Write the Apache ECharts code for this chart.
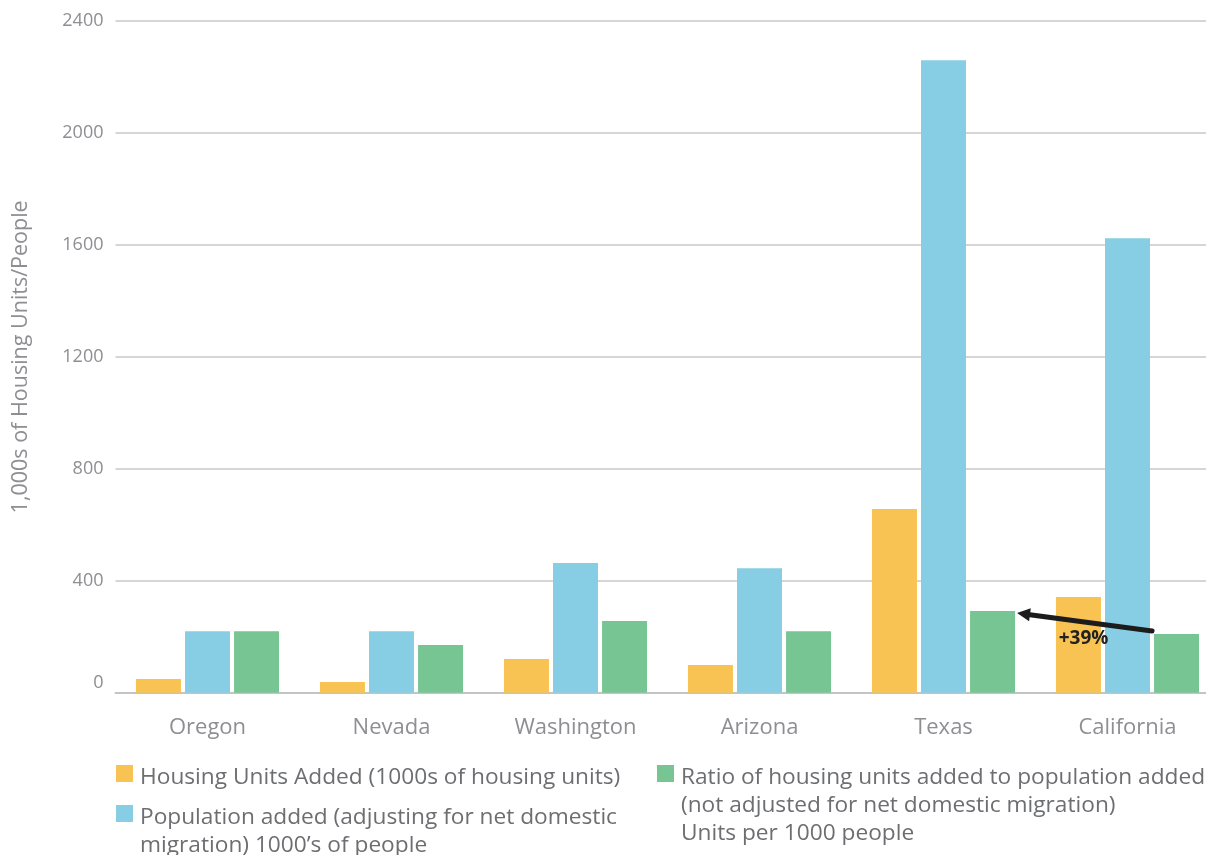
<!DOCTYPE html>
<html>
<head>
<meta charset="utf-8">
<title>Housing units vs population added</title>
<script src="https://cdn.jsdelivr.net/npm/echarts@6/dist/echarts.min.js"></script>
<style>
  html, body { margin: 0; padding: 0; background: #fff; }
  #chart { width: 1206px; height: 855px; }
</style>
</head>
<body>
<div id="chart"></div>
<script>
// States compared
const categories = ['Oregon', 'Nevada', 'Washington', 'Arizona', 'Texas', 'California'];
// Housing units added, thousands
const housingAdded = [49, 38, 120, 99, 656, 342];
// Population added (adjusted for net domestic migration), thousands
const populationAdded = [220, 220, 463, 445, 2260, 1624];
// Housing units added per 1000 people added
const unitsPerThousand = [220, 170, 256, 220, 292, 210];

// Value axis range
const yMin = 0;
const yMax = 2400;
const yStep = 400;

// Series names (legend text)
const seriesNames = [
  'Housing Units Added (1000s of housing units)',
  'Population added (adjusting for net domestic\nmigration) 1000\u2019s of people',
  'Ratio of housing units added to population added\n(not adjusted for net domestic migration)\nUnits per 1000 people'
];

// Comparison annotated with an arrow: California ratio -> Texas ratio
const compareFrom = 'California';
const compareTo = 'Texas';

const FONT = '"Open Sans", Lato, sans-serif';
const AXIS_GREY = '#8e8e93';
const LEGEND_GREY = '#6d6e71';
const COLORS = ['#F9C353', '#87CEE5', '#78C594'];
const BAR_W = 45;
const BAR_GAP = 0.09;
const LEGEND_LH = 28;

const chart = echarts.init(document.getElementById('chart'), null, { renderer: 'canvas' });

const option = {
  animation: false,
  backgroundColor: '#ffffff',
  textStyle: { fontFamily: FONT },
  grid: {
    left: 115.5,
    top: 21,
    width: 1104,
    height: 671.7,
    containLabel: false,
    outerBoundsMode: 'none'
  },
  xAxis: {
    type: 'category',
    data: categories,
    axisTick: { show: false },
    axisLine: { show: true, lineStyle: { color: '#c4c4c4', width: 2 } },
    axisLabel: {
      color: AXIS_GREY,
      fontFamily: FONT,
      fontSize: 22,
      margin: 24
    }
  },
  yAxis: {
    type: 'value',
    min: yMin,
    max: yMax,
    interval: yStep,
    name: '1,000s of Housing Units/People',
    nameLocation: 'middle',
    nameGap: 84,
    nameTextStyle: { color: AXIS_GREY, fontFamily: FONT, fontSize: 21.5 },
    axisLine: { show: false },
    axisTick: { show: false },
    splitLine: { lineStyle: { color: '#c8c8c8', width: 1.5 } },
    axisLabel: {
      color: AXIS_GREY,
      fontFamily: FONT,
      fontSize: 18,
      margin: 12,
      formatter: function (v) { return v === 0 ? '{z|0}' : String(v); },
      rich: {
        z: { color: AXIS_GREY, fontFamily: FONT, fontSize: 18, padding: [0, 0, 20, 0] }
      }
    }
  },
  series: seriesNames.map(function (name, i) {
    return {
      name: name,
      type: 'bar',
      data: [housingAdded, populationAdded, unitsPerThousand][i],
      itemStyle: { color: COLORS[i] },
      barWidth: BAR_W,
      barGap: (BAR_GAP * 100) + '%'
    };
  })
};

chart.setOption(option);

// Legend: swatch level with the first line of each (possibly multi-line) entry
function legendEntry(i, left, swatchTop) {
  return {
    type: 'group',
    x: left,
    y: swatchTop,
    children: [
      { type: 'rect', shape: { x: 0, y: 0, width: 17, height: 17 }, style: { fill: COLORS[i] } },
      {
        type: 'text',
        x: 24,
        y: 8.5 + 4 - LEGEND_LH / 2,
        style: {
          text: seriesNames[i],
          fontFamily: FONT,
          fontSize: 22.7,
          lineHeight: LEGEND_LH,
          fill: LEGEND_GREY,
          align: 'left',
          verticalAlign: 'top'
        }
      }
    ]
  };
}

// Arrow from California's ratio bar to Texas's ratio bar, with the percent increase
function comparisonArrow() {
  const iFrom = categories.indexOf(compareFrom);
  const iTo = categories.indexOf(compareTo);
  const vFrom = unitsPerThousand[iFrom];
  const vTo = unitsPerThousand[iTo];
  const pFrom = chart.convertToPixel({ xAxisIndex: 0, yAxisIndex: 0 }, [compareFrom, vFrom]);
  const pTo = chart.convertToPixel({ xAxisIndex: 0, yAxisIndex: 0 }, [compareTo, vTo]);
  // third bar sits one bar + gap to the right of the category centre
  const greenOffset = BAR_W + BAR_W * BAR_GAP;
  const tail = [pFrom[0] + greenOffset - BAR_W / 2 - 2, pFrom[1] - 3];
  const tip = [pTo[0] + greenOffset + BAR_W / 2 + 2, pTo[1] + 2];

  const dx = tip[0] - tail[0];
  const dy = tip[1] - tail[1];
  const len = Math.sqrt(dx * dx + dy * dy);
  const ux = dx / len, uy = dy / len;
  const headLen = 13, headHalf = 6.5;
  const base = [tip[0] - ux * headLen, tip[1] - uy * headLen];
  const nx = -uy, ny = ux;

  const pct = Math.round((vTo / vFrom - 1) * 100);

  return [
    {
      type: 'line',
      z: 100,
      shape: { x1: tail[0], y1: tail[1], x2: base[0] + ux * 2, y2: base[1] + uy * 2 },
      style: { stroke: '#1c1c1c', lineWidth: 5, lineCap: 'round' }
    },
    {
      type: 'polygon',
      z: 100,
      shape: {
        points: [
          tip,
          [base[0] + nx * headHalf, base[1] + ny * headHalf],
          [base[0] - nx * headHalf, base[1] - ny * headHalf]
        ]
      },
      style: { fill: '#1c1c1c' }
    },
    {
      type: 'text',
      z: 100,
      x: (tail[0] + tip[0]) / 2 - 1,
      y: (tail[1] + tip[1]) / 2 + 17,
      style: {
        text: '+' + pct + '%',
        fontFamily: FONT,
        fontSize: 19,
        fontWeight: 'bold',
        fill: '#222222',
        align: 'center',
        verticalAlign: 'middle'
      }
    }
  ];
}

chart.setOption({
  graphic: [
    legendEntry(0, 116, 765),
    legendEntry(1, 116, 805),
    legendEntry(2, 657, 765)
  ].concat(comparisonArrow())
});
</script>
</body>
</html>
